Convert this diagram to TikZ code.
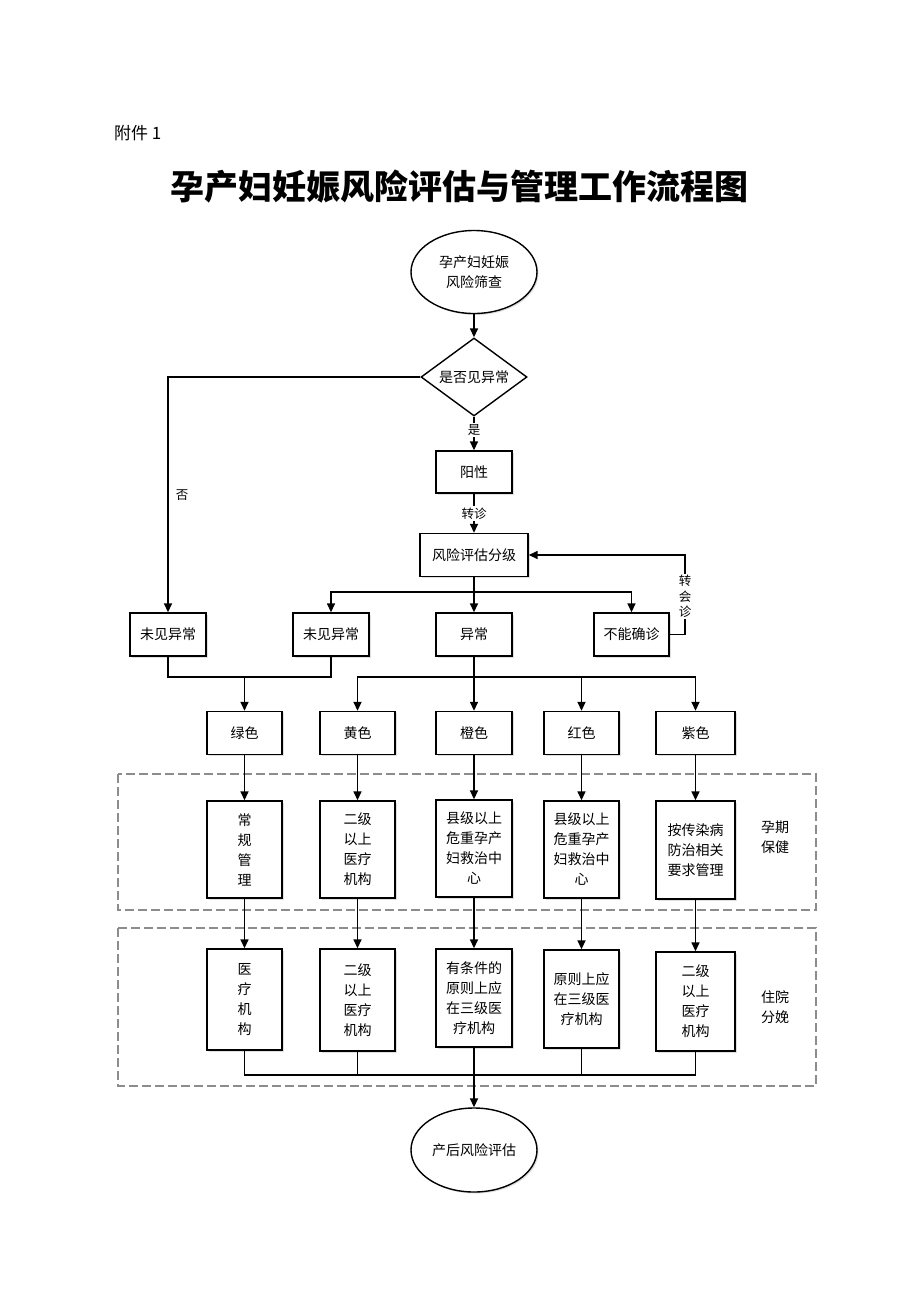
\documentclass[tikz,border=0pt]{standalone}
\usepackage{fontspec}
\setmainfont{Noto Sans CJK SC}
\usetikzlibrary{arrows.meta,shapes.geometric,shadows}
\tikzset{
 shad/.style={drop shadow={shadow xshift=1.5pt, shadow yshift=-1.5pt, opacity=0.25}},
 base/.style={draw=black, line width=1.4pt, fill=white, align=center, inner sep=0pt, font=\fontsize{14}{20}\selectfont},
 box/.style={base, shad, rectangle, minimum width=76pt, minimum height=43pt},
 oval/.style={base, shad, ellipse, minimum width=126pt, minimum height=83pt},
 dia/.style={base, diamond, aspect=1.36, minimum width=106pt, minimum height=78pt},
 conn/.style={line width=1.5pt, draw=black},
 arr/.style={conn, -{Triangle[length=9pt,width=8pt]}},
 lbl/.style={font=\fontsize{12.5}{15.5}\selectfont, fill=white, inner sep=1.5pt, align=center},
 zone/.style={draw=black!45, line width=1.3pt, dash pattern=on 9pt off 4pt},
 side/.style={font=\fontsize{14}{20}\selectfont, align=center, inner sep=0pt}
}
\begin{document}
\begin{tikzpicture}[x=1pt,y=-1pt]
\useasboundingbox[fill=white] (0,0) rectangle (920,1302);

% header
\node[anchor=west, inner sep=0pt, font=\fontsize{17}{17}\selectfont] (att) at (114,133) {附件 1};
\node[inner sep=0pt, font=\fontsize{34}{34}\selectfont\bfseries] (title) at (459,187) {孕产妇妊娠风险评估与管理工作流程图};

% zones
\draw[zone] (118,774) rectangle (816,910);
\draw[zone] (118,928) rectangle (816,1086);
\node[side] (z1) at (775,837) {孕期\\保健};
\node[side] (z2) at (775,1007) {住院\\分娩};

% nodes
\node[oval] (s1) at (474,272) {孕产妇妊娠\\风险筛查};
\node[dia] (d1) at (474,377) {是否见异常};
\node[box, minimum height=42pt] (yx) at (474,472) {阳性};
\node[box, minimum width=108pt] (risk) at (474,555) {风险评估分级};

\node[box] (n1) at (168,634.5) {未见异常};
\node[box] (n2) at (331,634.5) {未见异常};
\node[box] (n3) at (474,634.5) {异常};
\node[box, minimum width=75pt] (n4) at (631.5,634.5) {不能确诊};

\node[box, minimum width=75pt] (c1) at (244.5,733) {绿色};
\node[box, minimum width=75pt] (c2) at (357.5,733) {黄色};
\node[box] (c3) at (474,733) {橙色};
\node[box, minimum width=75pt] (c4) at (581.5,733) {红色};
\node[box, minimum width=79pt] (c5) at (695.5,733) {紫色};

\node[box, minimum width=75pt, minimum height=97pt] (r3a) at (244.5,849.5) {常\\规\\管\\理};
\node[box, minimum width=75pt, minimum height=97pt] (r3b) at (357.5,849.5) {二级\\以上\\医疗\\机构};
\node[box, minimum height=97pt] (r3c) at (474,848.5) {县级以上\\危重孕产\\妇救治中\\心};
\node[box, minimum width=75pt, minimum height=97pt] (r3d) at (581.5,849.5) {县级以上\\危重孕产\\妇救治中\\心};
\node[box, minimum width=79pt, minimum height=98pt] (r3e) at (695.5,850) {按传染病\\防治相关\\要求管理};

\node[box, minimum width=75pt, minimum height=101pt] (r4a) at (244.5,999.5) {医\\疗\\机\\构};
\node[box, minimum width=75pt, minimum height=102pt] (r4b) at (357.5,1000) {二级\\以上\\医疗\\机构};
\node[box, minimum height=98pt] (r4c) at (474,998) {有条件的\\原则上应\\在三级医\\疗机构};
\node[box, minimum width=75pt, minimum height=98pt] (r4d) at (581.5,999) {原则上应\\在三级医\\疗机构};
\node[box, minimum width=79pt, minimum height=99pt] (r4e) at (695.5,1001.5) {二级\\以上\\医疗\\机构};

\node[oval, minimum height=84pt] (end) at (474,1150) {产后风险评估};

% connectors
\draw[arr] (s1) -- (d1);
\draw[arr] (d1.west) -| node[pos=0.75, anchor=west, xshift=7pt, inner sep=0pt, font=\fontsize{12.5}{15}\selectfont] {否} (n1.north);
\draw[arr] (d1.south) -- node[lbl, pos=0.39] {是} (yx.north);
\draw[arr] (yx.south) -- node[lbl, pos=0.5] {转诊} (risk.north);

\coordinate (b1) at (474,592);
\draw[conn] (risk.south) -- (b1);
\draw[arr] (b1) -| (n2.north);
\draw[arr] (b1) -- (n3.north);
\draw[arr] (b1) -| (n4.north);

\coordinate (tc) at (685,555);
\draw[arr] (n4.east) -| node[lbl, pos=0.74, inner sep=1pt] {转\\会\\诊} (tc) -- (risk.east);

\coordinate (j1) at (244.5,677);
\draw[conn] (n1.south) |- (j1) -| (n2.south);
\draw[arr] (j1) -- (c1.north);

\coordinate (j2) at (474,677);
\draw[conn] (n3.south) -- (j2);
\draw[arr] (j2) -| (c2.north);
\draw[arr] (j2) -- (c3.north);
\draw[arr] (j2) -| (c4.north);
\draw[arr] (j2) -| (c5.north);

\draw[arr] (c1) -- (r3a);
\draw[arr] (c2) -- (r3b);
\draw[arr] (c3) -- (r3c);
\draw[arr] (c4) -- (r3d);
\draw[arr] (c5) -- (r3e);

\draw[arr] (r3a) -- (r4a);
\draw[arr] (r3b) -- (r4b);
\draw[arr] (r3c) -- (r4c);
\draw[arr] (r3d) -- (r4d);
\draw[arr] (r3e) -- (r4e);

\coordinate (j3) at (474,1075);
\draw[conn] (r4a.south) |- (j3);
\draw[conn] (r4b.south) |- (j3);
\draw[conn] (r4c.south) -- (j3);
\draw[conn] (r4d.south) |- (j3);
\draw[conn] (r4e.south) |- (j3);
\draw[arr, line width=1.8pt] (j3) -- (end.north);
\end{tikzpicture}
\end{document}
